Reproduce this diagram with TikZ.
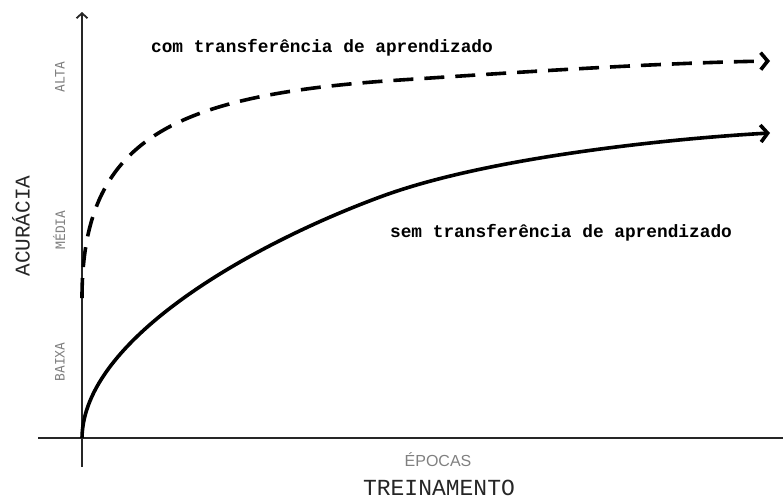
\documentclass[tikz,border=0pt]{standalone}
\usepackage{fontspec}
\setmonofont{Liberation Mono}
\setsansfont{Liberation Sans}
\newfontfamily\levelfont{DejaVu Sans Mono}
\usetikzlibrary{arrows.meta}

\begin{document}
\begin{tikzpicture}[x=1pt,y=-1pt,
    axisline/.style={line width=1.8pt,black!85},
    curveline/.style={line width=3.6pt,-{Straight Barb[length=7pt,width=17pt]}},
    levellabel/.style={rotate=90,text=black!50,font=\levelfont\fontsize{13}{13}\selectfont},
    curvelabel/.style={font=\ttfamily\bfseries\fontsize{17.8}{18}\selectfont}]
  \useasboundingbox (0,0) rectangle (783,499);
  % eixos
  \coordinate (xbeg) at (38,438);
  \coordinate (xend) at (783,438);
  \coordinate (ybot) at (82,467);
  \coordinate (yend) at (82,12);
  \draw[axisline] (xbeg) -- (xend);
  \draw[axisline,-{Straight Barb[length=5pt,width=11pt]}] (ybot) -- (yend);
  % com transferencia
  \coordinate (cstart) at (82,298);
  \coordinate (cmid) at (400,80);
  \coordinate (cend) at (770,61);
  \draw[curveline,dash pattern=on 20pt off 11pt] (cstart) .. controls (82,140) and (170,95) .. (cmid)
    .. controls (500,73.5) and (650,63) .. (cend);
  % sem transferencia
  \coordinate (sstart) at (82,438);
  \coordinate (smid) at (380,197);
  \coordinate (send) at (770,133);
  \draw[curveline] (sstart) .. controls (83,340) and (250,245) .. (smid)
    .. controls (490,156) and (680,138) .. (send);
  % textos
  \node[curvelabel] (comlbl) at (322,48) {com transferência de aprendizado};
  \node[curvelabel] (semlbl) at (561,233) {sem transferência de aprendizado};
  \node[levellabel] (alta) at (60,77) {ALTA};
  \node[levellabel] (media) at (59,230) {MÉDIA};
  \node[levellabel] (baixa) at (60,362) {BAIXA};
  \node[rotate=90,text=black!85,font=\ttfamily\fontsize{21}{21}\selectfont] (acclbl) at (21,226) {ACURÁCIA};
  \node[text=black!50,font=\sffamily\fontsize{16}{16}\selectfont] (epocas) at (438,460) {ÉPOCAS};
  \node[text=black!85,font=\ttfamily\fontsize{23}{23}\selectfont] (treino) at (439,488) {TREINAMENTO};
\end{tikzpicture}
\end{document}
